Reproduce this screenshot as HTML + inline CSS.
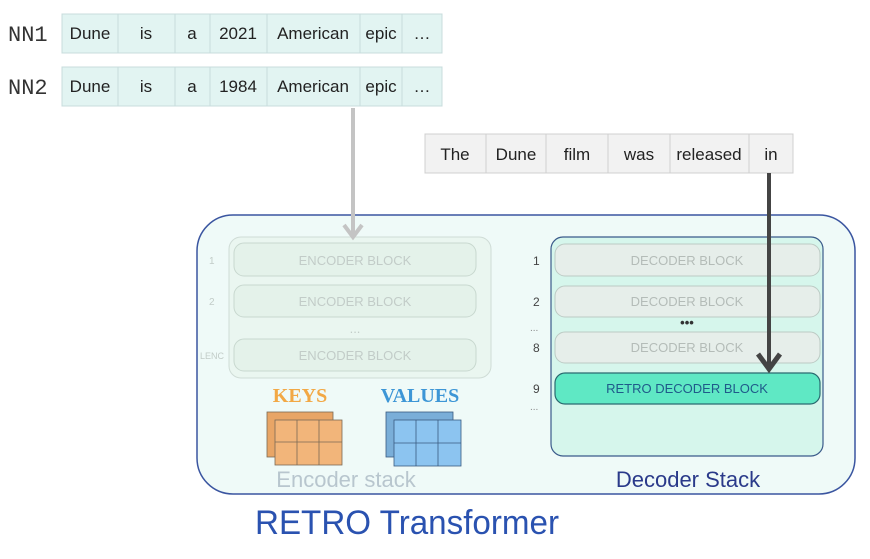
<!DOCTYPE html>
<html><head><meta charset="utf-8"><style>
body{margin:0;background:#fff;}
svg text{font-family:"Liberation Sans",sans-serif;}
</style></head><body>
<svg width="870" height="554" viewBox="0 0 870 554" xmlns="http://www.w3.org/2000/svg">
<rect x="0" y="0" width="870" height="554" fill="#fff"/>
<text x="8" y="41" font-size="22" fill="#333" style="font-family:'Liberation Mono',monospace">NN1</text>
<text x="8" y="94" font-size="22" fill="#333" style="font-family:'Liberation Mono',monospace">NN2</text>
<g stroke="#c8dcdc" stroke-width="1" fill="#e2f4f2">
<rect x="62" y="14" width="380" height="39"/>
<rect x="62" y="67" width="380" height="39"/>
</g>
<g stroke="#c8dcdc">
<line x1="118" y1="14" x2="118" y2="53"/><line x1="175" y1="14" x2="175" y2="53"/><line x1="210" y1="14" x2="210" y2="53"/><line x1="267" y1="14" x2="267" y2="53"/><line x1="360" y1="14" x2="360" y2="53"/><line x1="402" y1="14" x2="402" y2="53"/>
<line x1="118" y1="67" x2="118" y2="106"/><line x1="175" y1="67" x2="175" y2="106"/><line x1="210" y1="67" x2="210" y2="106"/><line x1="267" y1="67" x2="267" y2="106"/><line x1="360" y1="67" x2="360" y2="106"/><line x1="402" y1="67" x2="402" y2="106"/>
</g>
<g font-size="17" fill="#222" text-anchor="middle">
<text x="90" y="39">Dune</text><text x="146" y="39">is</text><text x="192" y="39">a</text><text x="238" y="39">2021</text><text x="313" y="39">American</text><text x="381" y="39">epic</text><text x="422" y="39">…</text>
<text x="90" y="92">Dune</text><text x="146" y="92">is</text><text x="192" y="92">a</text><text x="238" y="92">1984</text><text x="313" y="92">American</text><text x="381" y="92">epic</text><text x="422" y="92">…</text>
</g>
<rect x="425" y="134" width="368" height="39" fill="#f2f2f2" stroke="#d0d0d0"/>
<g stroke="#d0d0d0"><line x1="486" y1="134" x2="486" y2="173"/><line x1="546" y1="134" x2="546" y2="173"/><line x1="608" y1="134" x2="608" y2="173"/><line x1="670" y1="134" x2="670" y2="173"/><line x1="749" y1="134" x2="749" y2="173"/></g>
<g font-size="17" fill="#222" text-anchor="middle">
<text x="455" y="160">The</text><text x="516" y="160">Dune</text><text x="577" y="160">film</text><text x="639" y="160">was</text><text x="709" y="160">released</text><text x="771" y="160">in</text>
</g>
<rect x="197" y="215" width="658" height="279" rx="36" fill="#effaf8" stroke="#3a55a0" stroke-width="1.5"/>
<rect x="229" y="237" width="262" height="141" rx="12" fill="#eaf6f0" stroke="#cfdcd6"/>
<g fill="#e4f2ea" stroke="#c8d8cf">
<rect x="234" y="243" width="242" height="33" rx="10"/>
<rect x="234" y="285" width="242" height="32" rx="10"/>
<rect x="234" y="339" width="242" height="32" rx="10"/>
</g>
<g font-size="13" fill="#c2ccc8" text-anchor="middle">
<text x="355" y="265">ENCODER BLOCK</text><text x="355" y="306">ENCODER BLOCK</text><text x="355" y="360">ENCODER BLOCK</text>
<text x="355" y="333">...</text>
</g>
<g font-size="10" fill="#c2ccc8"><text x="209" y="264">1</text><text x="209" y="305">2</text><text x="200" y="359" font-size="9">LENC</text></g>
<line x1="353" y1="108" x2="353" y2="236" stroke="#c4c4c4" stroke-width="4"/>
<polyline points="344,225 353,237 362,225" fill="none" stroke="#c4c4c4" stroke-width="4"/>
<text x="300" y="402" font-size="20" font-weight="bold" fill="#f2a845" text-anchor="middle" style="font-family:'Liberation Serif',serif">KEYS</text>
<text x="420" y="402" font-size="20" font-weight="bold" fill="#3d96d6" text-anchor="middle" style="font-family:'Liberation Serif',serif">VALUES</text>
<g stroke="#7a6a55" stroke-width="0.8">
<rect x="267" y="412" width="66" height="45" fill="#e8a566"/>
<rect x="275" y="420" width="67" height="45" fill="#f2b57a"/>
<line x1="297" y1="420" x2="297" y2="465"/><line x1="319" y1="420" x2="319" y2="465"/><line x1="275" y1="442" x2="342" y2="442"/>
</g>
<g stroke="#3a5a80" stroke-width="0.8">
<rect x="386" y="412" width="67" height="45" fill="#7aaed8"/>
<rect x="394" y="420" width="67" height="46" fill="#8cc4f0"/>
<line x1="416" y1="420" x2="416" y2="466"/><line x1="438" y1="420" x2="438" y2="466"/><line x1="394" y1="443" x2="461" y2="443"/>
</g>
<text x="346" y="487" font-size="22" fill="#b8c6ce" text-anchor="middle">Encoder stack</text>
<rect x="551" y="237" width="272" height="219" rx="12" fill="#d6f6ec" stroke="#3a5a8a" stroke-width="1.2"/>
<g fill="#e6eeea" stroke="#bccac4">
<rect x="555" y="244" width="265" height="32" rx="10"/>
<rect x="555" y="286" width="265" height="31" rx="10"/>
<rect x="555" y="332" width="265" height="31" rx="10"/>
</g>
<rect x="555" y="373" width="265" height="31" rx="10" fill="#5fe8c4" stroke="#2a6a70" stroke-width="1.2"/>
<g font-size="13" fill="#b4bcb8" text-anchor="middle">
<text x="687" y="265">DECODER BLOCK</text><text x="687" y="306">DECODER BLOCK</text><text x="687" y="352">DECODER BLOCK</text>
</g>
<text x="687" y="393" font-size="13" fill="#1f5a8a" text-anchor="middle">RETRO DECODER BLOCK</text>
<text x="687" y="327" font-size="13" fill="#333" text-anchor="middle" font-weight="bold">•••</text>
<g font-size="12" fill="#444"><text x="533" y="265">1</text><text x="533" y="306">2</text><text x="533" y="352">8</text><text x="533" y="393">9</text></g>
<g font-size="10" fill="#888"><text x="530" y="331">...</text><text x="530" y="410">...</text></g>
<text x="688" y="487" font-size="22" fill="#2a3a8a" text-anchor="middle">Decoder Stack</text>
<line x1="769" y1="173" x2="769" y2="368" stroke="#444" stroke-width="4"/>
<polyline points="758,354 769,369 780,354" fill="none" stroke="#444" stroke-width="5"/>
<text x="407" y="534" font-size="34" fill="#2a52b0" text-anchor="middle" textLength="304" lengthAdjust="spacingAndGlyphs">RETRO Transformer</text>
</svg>
</body></html>
